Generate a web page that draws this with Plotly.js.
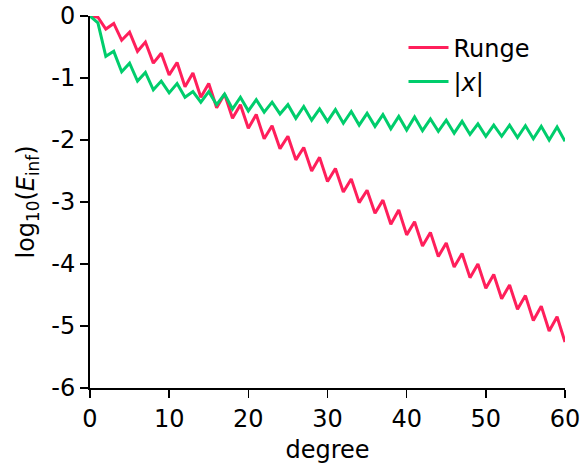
<!DOCTYPE html>
<html>
<head>
<meta charset="utf-8">
<script src="https://cdn.plot.ly/plotly-3.0.1.min.js"></script>
<style>html,body{margin:0;padding:0;background:#fff;}#chart{width:583px;height:464px;}</style>
</head>
<body>
<div id="chart"></div>
<script>
const degree = [0,1,2,3,4,5,6,7,8,9,10,11,12,13,14,15,16,17,18,19,20,21,22,23,24,25,26,27,28,29,30,31,32,33,34,35,36,37,38,39,40,41,42,43,44,45,46,47,48,49,50,51,52,53,54,55,56,57,58,59,60];
const runge = [0,-0.02,-0.21,-0.12,-0.39,-0.26,-0.57,-0.42,-0.76,-0.60,-0.95,-0.75,-1.14,-0.92,-1.31,-1.09,-1.48,-1.26,-1.65,-1.43,-1.81,-1.59,-1.98,-1.77,-2.14,-1.94,-2.32,-2.12,-2.50,-2.28,-2.67,-2.46,-2.84,-2.63,-3.01,-2.81,-3.18,-2.97,-3.36,-3.13,-3.53,-3.32,-3.71,-3.49,-3.88,-3.66,-4.05,-3.83,-4.22,-4.00,-4.39,-4.17,-4.56,-4.34,-4.73,-4.51,-4.91,-4.68,-5.08,-4.85,-5.26];
const absx = [0,-0.11,-0.65,-0.57,-0.90,-0.76,-1.05,-0.91,-1.19,-1.05,-1.24,-1.09,-1.31,-1.22,-1.39,-1.22,-1.43,-1.26,-1.50,-1.31,-1.53,-1.35,-1.55,-1.39,-1.58,-1.43,-1.65,-1.46,-1.68,-1.50,-1.70,-1.51,-1.73,-1.54,-1.76,-1.57,-1.78,-1.59,-1.82,-1.62,-1.84,-1.63,-1.85,-1.66,-1.86,-1.68,-1.89,-1.70,-1.91,-1.74,-1.94,-1.76,-1.94,-1.76,-1.96,-1.77,-1.98,-1.78,-2.00,-1.79,-2.02];
const seriesNames = ["Runge", "|<i>x</i>|"];
const xTickVals = [0,10,20,30,40,50,60];
const xTickText = ["0","10","20","30","40","50","60"];
const yTickVals = [0,-1,-2,-3,-4,-5,-6];
const yTickText = ["0","-1","-2","-3","-4","-5","-6"];

const font = {family: "DejaVu Sans", size: 24, color: "#000"};
const traces = [
  {x: degree, y: runge, name: seriesNames[0], mode: "lines", line: {color: "#FF1F5B", width: 3}},
  {x: degree, y: absx, name: seriesNames[1], mode: "lines", line: {color: "#00CD6C", width: 3}}
];
const axisCommon = {
  showgrid: false, zeroline: false, showline: true, linecolor: "#000", linewidth: 2,
  ticks: "outside", ticklen: 8, tickwidth: 1.5, tickcolor: "#000", mirror: false,
  tickfont: font
};
const layout = {
  width: 583, height: 464,
  margin: {l: 90, r: 18, t: 16, b: 76},
  paper_bgcolor: "#fff", plot_bgcolor: "#fff",
  font: font,
  showlegend: true,
  legend: {x: 0.66, y: 0.975, xanchor: "left", yanchor: "top", bgcolor: "rgba(0,0,0,0)", font: font, tracegroupgap: 0, itemwidth: 40},
  xaxis: Object.assign({}, axisCommon, {range: [0, 60], tickmode: "array", tickvals: xTickVals, ticktext: xTickText,
    title: {text: "degree", font: font, standoff: 13}}),
  yaxis: Object.assign({}, axisCommon, {range: [-6, 0], tickmode: "array", tickvals: yTickVals, ticktext: yTickText,
    title: {text: "log<sub>10</sub>(<i>E</i><sub>inf</sub>)", font: font, standoff: 10}})
};
Plotly.newPlot("chart", traces, layout, {displayModeBar: false, staticPlot: true});
</script>
</body>
</html>
